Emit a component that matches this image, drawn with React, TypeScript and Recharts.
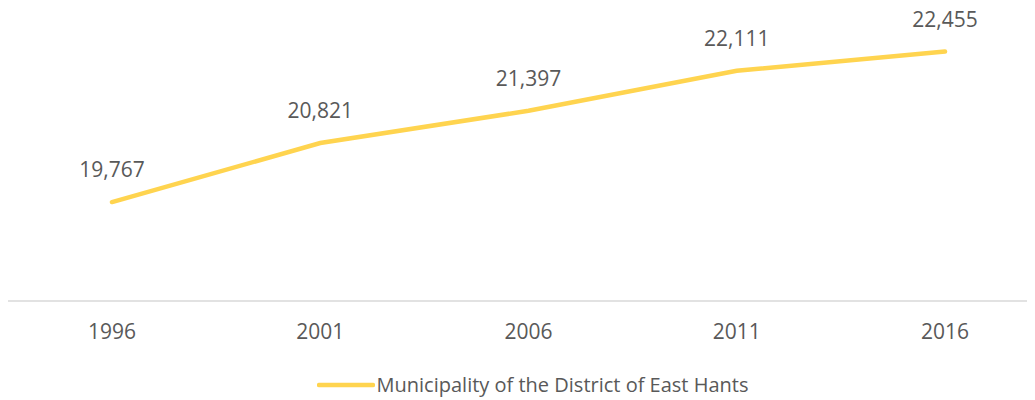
import { LineChart, Line, XAxis, YAxis, Legend, LabelList } from "recharts"

const years = ["1996", "2001", "2006", "2011", "2016"]
const population = [19767, 20821, 21397, 22111, 22455]
const seriesName = "Municipality of the District of East Hants"

const data = years.map((year, i) => ({ year, value: population[i] }))

const LINE_COLOR = "#FFD44F"
const TEXT_COLOR = "#595959"
const FONT = "'Open Sans', sans-serif"

const renderLegend = () => (
    <div style={{ display: "flex", justifyContent: "center", alignItems: "center", paddingLeft: 8 }}>
        <svg width={58} height={10} style={{ marginRight: 2 }}>
            <line x1={2} y1={5} x2={56} y2={5} stroke={LINE_COLOR} strokeWidth={4.5} strokeLinecap="round" />
        </svg>
        <span style={{ fontFamily: FONT, fontSize: 20, color: TEXT_COLOR }}>{seriesName}</span>
    </div>
)

export default function App() {
    return (
        <div style={{ width: 1019, height: 400, marginTop: -8, overflow: "hidden" }}>
            <LineChart
                width={1041}
                height={400}
                data={data}
                margin={{ top: 21, right: 0, left: 0, bottom: 42 }}
            >
                <XAxis
                    dataKey="year"
                    stroke="#D9D9D9"
                    strokeWidth={1.5}
                    tickLine={false}
                    tickSize={0}
                    tickMargin={23}
                    tick={{ fill: TEXT_COLOR, fontSize: 21, fontFamily: FONT }}
                    padding={{ left: 104, right: 104 }}
                />
                <YAxis hide domain={[18000, 23000]} />
                <Legend
                    content={renderLegend}
                    wrapperStyle={{ position: "absolute", top: 371, left: 0, width: 1041 }}
                />
                <Line
                    type="linear"
                    dataKey="value"
                    name={seriesName}
                    stroke={LINE_COLOR}
                    strokeWidth={4.5}
                    strokeLinecap="round"
                    dot={false}
                    isAnimationActive={false}
                >
                    <LabelList
                        dataKey="value"
                        position="top"
                        offset={25}
                        formatter={(v: number) => v.toLocaleString("en-US")}
                        style={{ fill: TEXT_COLOR, fontSize: 21, fontFamily: FONT }}
                    />
                </Line>
            </LineChart>
        </div>
    )
}
